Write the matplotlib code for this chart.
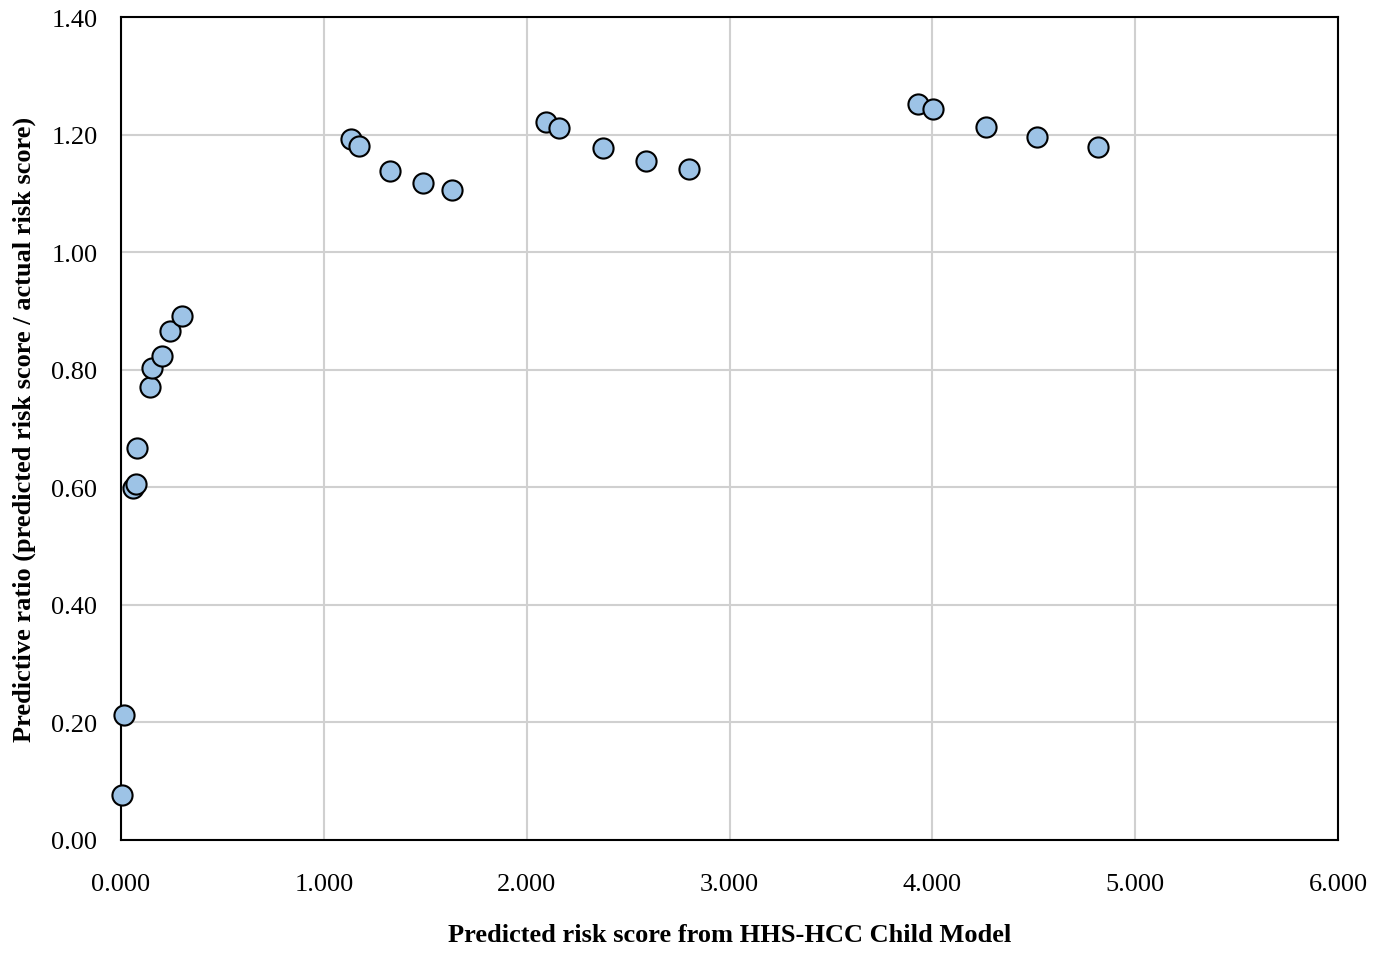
import numpy as np
from matplotlib import pyplot as plt

# Predicted risk score vs predictive ratio
risk_score = [0.005, 0.015, 0.059, 0.074, 0.079, 0.143, 0.153, 0.202, 0.242, 0.301,
              1.134, 1.174, 1.326, 1.489, 1.632,
              2.096, 2.160, 2.377, 2.589, 2.801,
              3.930, 4.004, 4.265, 4.517, 4.817]
pred_ratio = [0.077, 0.213, 0.599, 0.606, 0.667, 0.771, 0.803, 0.823, 0.866, 0.891,
              1.192, 1.180, 1.138, 1.118, 1.106,
              1.221, 1.211, 1.177, 1.155, 1.141,
              1.252, 1.243, 1.213, 1.196, 1.179]

x_ticks = np.arange(0, 6.01, 1.0)
y_ticks = np.arange(0, 1.41, 0.2)

plt.rcParams['font.family'] = ['Liberation Serif', 'DejaVu Serif']
plt.rcParams['font.size'] = 19

fig, ax = plt.subplots(figsize=(13.88, 9.54), dpi=100)
fig.subplots_adjust(left=0.0872, right=0.964, top=0.981, bottom=0.1185)

ax.plot(risk_score, pred_ratio, 'o', markersize=14.5, markerfacecolor='#9dc3e6',
        markeredgecolor='black', markeredgewidth=1.5, clip_on=False, zorder=3)

ax.set_xlim(0, 6)
ax.set_ylim(0, 1.4)
ax.set_xticks(x_ticks)
ax.set_yticks(y_ticks)
ax.set_xticklabels([f'{v:.3f}' for v in x_ticks])
ax.set_yticklabels([f'{v:.2f}' for v in y_ticks])
ax.tick_params(length=0)
ax.tick_params(axis='y', pad=17)
ax.tick_params(axis='x', pad=24)
ax.grid(True, color='#d0d0d0', linewidth=1.5)
ax.set_axisbelow(True)
for sp in ax.spines.values():
    sp.set_linewidth(1.5)

ax.set_xlabel('Predicted risk score from HHS-HCC Child Model', fontweight='bold', labelpad=20)
ax.set_ylabel('Predictive ratio (predicted risk score / actual risk score)', fontweight='bold', labelpad=11)

plt.savefig('out.png', dpi=100)
